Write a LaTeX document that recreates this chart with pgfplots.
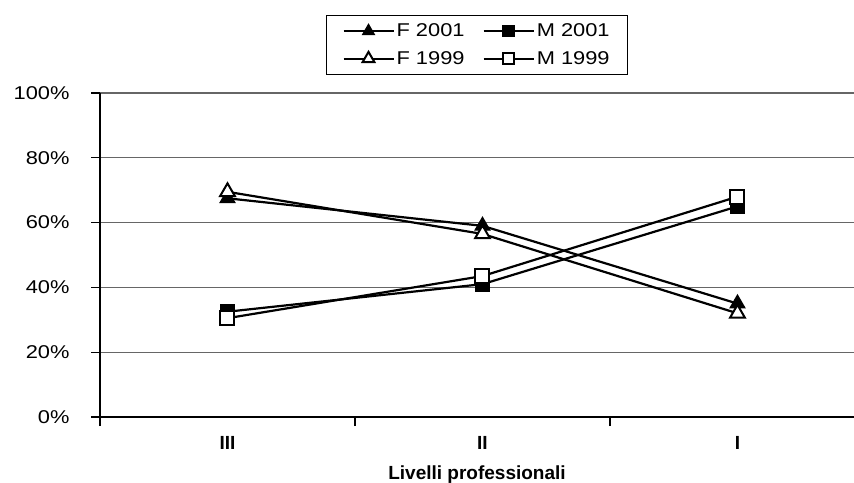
\documentclass[border=0pt]{standalone}
\usepackage{fontspec}
\setmainfont{Liberation Sans}
\newfontfamily\widefont{Liberation Sans}[FakeStretch=1.18]
\usepackage{pgfplots}
\pgfplotsset{compat=1.18}

\newcommand{\chartfont}{\fontsize{18.5pt}{22pt}\selectfont}
\newcommand{\boldfont}{\fontsize{19pt}{22pt}\selectfont\bfseries}

% Shares by professional level (III, II, I), per sex and year
\pgfplotstableread{
x  F2001  M2001  F1999  M1999
0  67.5   32.5   69.5   30.5
1  59.0   41.0   56.5   43.5
2  35.0   65.0   32.0   68.0
}\livelli

\begin{document}
\begin{tikzpicture}
\useasboundingbox (0,0) rectangle (854pt,482pt);
\begin{axis}[
  at={(100pt,65pt)}, anchor=south west,
  scale only axis, width=754pt, height=324pt,
  xmin=-0.5, xmax=2.457, ymin=0, ymax=100,
  axis lines=left,
  axis line style={-, black, line width=1.3pt},
  tick align=outside,
  major tick length=9pt,
  tick style={black, line width=1.1pt},
  xtick={-0.5,0.5,1.5},
  xticklabels={,,},
  extra x ticks={0,1,2},
  extra x tick labels={III,II,I},
  extra x tick style={major tick length=0pt, grid=none,
    xticklabel style={font=\boldfont, yshift=-16pt}},
  ytick={0,20,40,60,80,100},
  yticklabels={0\%,20\%,40\%,60\%,80\%,100\%},
  yticklabel style={font=\chartfont\widefont, xshift=-18pt},
  ymajorgrids,
  major grid style={gray!80!black, line width=1.2pt},
  xlabel={Livelli professionali},
  xlabel style={font=\boldfont, yshift=0pt},
  legend style={at={(0.5,1.056)}, anchor=south, legend columns=2,
    font=\chartfont\widefont, draw=black, line width=1pt,
    inner xsep=16pt, inner ysep=6.5pt, row sep=9pt,
    /tikz/every even column/.append style={column sep=16pt}},
  legend image code/.code={%
    \draw[mark repeat=2, mark phase=2, #1,
      every mark/.append style={scale=0.8}]
      plot coordinates {(0pt,0pt) (25pt,0pt) (50pt,0pt)};},
]
\addplot[black, line width=2.2pt, mark=triangle*, mark size=8.5pt,
  mark options={solid, fill=black, line width=1.2pt}]
  table[x=x, y=F2001] {\livelli};
\addlegendentry{F 2001}
\addplot[black, line width=2.2pt, mark=square*, mark size=7pt,
  mark options={solid, fill=black, line width=1.2pt}]
  table[x=x, y=M2001] {\livelli};
\addlegendentry{M 2001}
\addplot[black, line width=2.2pt, mark=triangle*, mark size=8.5pt,
  mark options={solid, fill=white, line width=2pt}]
  table[x=x, y=F1999] {\livelli};
\addlegendentry{F 1999}
\addplot[black, line width=2.2pt, mark=square*, mark size=7pt,
  mark options={solid, fill=white, line width=2pt}]
  table[x=x, y=M1999] {\livelli};
\addlegendentry{M 1999}
\end{axis}
\end{tikzpicture}
\end{document}
